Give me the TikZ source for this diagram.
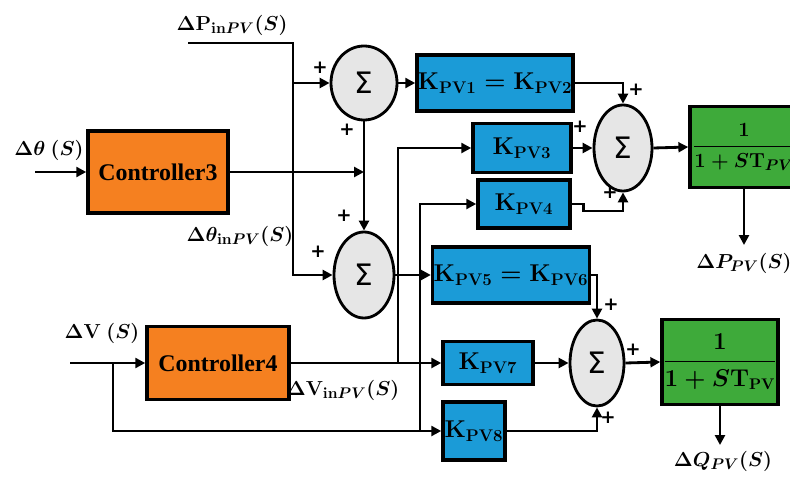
\documentclass[tikz,border=0pt]{standalone}
\usepackage{amsmath,amssymb}
\usepackage[no-math]{fontspec}
\setmainfont{Liberation Serif}
\newfontfamily\ctrlfont{Liberation Serif Bold}
\newfontfamily\symfont{DejaVu Sans}
\usepackage{tikz}
\usetikzlibrary{arrows.meta, shapes.geometric}
\definecolor{ctrlorange}{RGB}{245,128,32}
\definecolor{gainblue}{RGB}{27,155,215}
\definecolor{tfgreen}{RGB}{62,170,58}
\definecolor{sumgray}{RGB}{230,230,230}
\tikzset{
  signal style/.style={
    >={Triangle[length=7pt, width=7pt]}, % arrow tip style
    line width=2pt,                      % connector thickness
  },
  ctrl box/.style={draw, line width=2.5pt, fill=ctrlorange, font=\fontsize{17}{20}\ctrlfont},
  gain box/.style={draw, line width=2.5pt, fill=gainblue, inner sep=0pt, font=\fontsize{17}{20}\selectfont\boldmath},
  tf box/.style={draw, line width=2.5pt, fill=tfgreen, inner sep=0pt, font=\fontsize{16}{19}\selectfont\boldmath},
  sum node/.style={ellipse, draw, line width=2pt, fill=sumgray, inner sep=0pt,
    minimum width=1.5cm, minimum height=2.15cm, font=\fontsize{21}{24}\symfont},
  sig label/.style={inner sep=1pt, font=\fontsize{15}{18}\selectfont\boldmath},
  plus sign/.style={inner sep=0pt, font=\fontsize{13}{15}\symfont\bfseries},
}
\tikzset{every path/.style={signal style}}

\begin{document}
\begin{tikzpicture}[x=0.025cm, y=-0.025cm]
    \useasboundingbox (0,0) rectangle (790,480);

    % Controllers
    \node[ctrl box, minimum width=3.5cm, minimum height=2.05cm] (ctrl3) at (158,172) {Controller3};
    \node[ctrl box, minimum width=3.55cm, minimum height=1.83cm] (ctrl4) at (218,363) {Controller4};

    % Summing junctions
    \node[sum node, minimum width=1.65cm, minimum height=1.85cm] (sumP) at (364,83) {Σ};
    \node[sum node] (sumTh) at (364,275) {Σ};
    \node[sum node, minimum width=1.45cm] (sumPo) at (623,148) {Σ};
    \node[sum node, minimum width=1.35cm] (sumQo) at (597,363) {Σ};

    % Gains
    \node[gain box, minimum width=3.9cm, minimum height=1.4cm] (k12) at (495,83) {$\mathrm{K}_{\mathrm{PV1}}=\mathrm{K}_{\mathrm{PV2}}$};
    \node[gain box, minimum width=2.45cm, minimum height=1.22cm] (k3) at (522,148) {$\mathrm{K}_{\mathrm{PV3}}$};
    \node[gain box, minimum width=2.3cm, minimum height=1.2cm] (k4) at (524,204) {$\mathrm{K}_{\mathrm{PV4}}$};
    \node[gain box, minimum width=3.92cm, minimum height=1.4cm] (k56) at (511,275) {$\mathrm{K}_{\mathrm{PV5}}=\mathrm{K}_{\mathrm{PV6}}$};
    \node[gain box, minimum width=2.25cm, minimum height=1.08cm] (k7) at (488,363) {$\mathrm{K}_{\mathrm{PV7}}$};
    \node[gain box, minimum width=1.55cm, minimum height=1.45cm] (k8) at (474,431) {$\mathrm{K}_{\mathrm{PV8}}$};

    % Transfer functions
    \node[tf box, minimum width=2.7cm, minimum height=2.02cm, font=\fontsize{15}{18}\selectfont\boldmath] (tfP) at (744,147) {$\dfrac{1}{1+S\mathrm{T}_{PV}}$};
    \node[tf box, minimum width=2.9cm, minimum height=2.12cm] (tfQ) at (720,362) {$\dfrac{1}{1+S\mathrm{T}_{\mathrm{PV}}}$};

    % Signal labels
    \node[sig label] (lblPin) at (232,25) {$\Delta\mathrm{P}_{\mathrm{in}PV}(S)$};
    \node[sig label] (lblTh) at (49,150) {$\Delta\theta\ (S)$};
    \node[sig label] (lblThin) at (240,236) {$\Delta\theta_{\mathrm{in}PV}(S)$};
    \node[sig label] (lblV) at (102,333) {$\Delta\mathrm{V}\ (S)$};
    \node[sig label] (lblVin) at (343,390) {$\Delta\mathrm{V}_{\mathrm{in}PV}(S)$};
    \node[sig label] (lblPout) at (744,263) {$\Delta P_{PV}(S)$};
    \node[sig label] (lblQout) at (723,461) {$\Delta Q_{PV}(S)$};

    % Free ends and joints
    \coordinate (pIn) at (188,43);
    \coordinate (pJoint) at (293,43);
    \coordinate (thIn) at (35,172);
    \coordinate (vIn) at (70,363);
    \coordinate (vJoint) at (113,363);
    \coordinate (busA) at (398,148);
    \coordinate (busB) at (420,204);
    \coordinate (pOut) at (744,245);
    \coordinate (qOut) at (720,445);

    % Left part
    \draw[->] (pIn) -- (pJoint) |- (sumTh.west);
    \draw[->] (pJoint |- sumP.west) -- (sumP.west);
    \draw[->] (thIn) -- (ctrl3.west);
    \draw[->] (ctrl3.east) -- (ctrl3.east -| sumP.south);
    \draw[->] (sumP.south) -- (sumTh.north);
    \draw[->] (sumP.east) -- (k12.west);
    \draw[->] (sumTh.east) -- (k56.west);
    \draw[->] (vIn) -- (ctrl4.west);
    \draw[->] (ctrl4.east) -- (k7.west);
    \draw[->] (vJoint) |- (k8.west);
    \draw[->] (busA |- ctrl4.east) |- (k3.west);
    \draw[->] (busB |- k8.west) |- (k4.west);

    % Right part
    \draw[->] (k12.east) -| (sumPo.north);
    \draw[->] (k3.east) -- (sumPo.west);
    \draw[->] (k4.east) -- ++(12,0) -- ++(0,7) -| (sumPo.south);
    \draw[->] (sumPo.east) -- (tfP.west);
    \draw[->] (tfP.south) -- (pOut);
    \draw[->] (k56.east) -| (sumQo.north);
    \draw[->] (k7.east) -- (sumQo.west);
    \draw[->] (k8.east) -| (sumQo.south);
    \draw[->] (sumQo.east) -- (tfQ.west);
    \draw[->] (tfQ.south) -- (qOut);

    % Signs
    \foreach \px/\py [count=\i] in {320/68, 347/130, 344/216, 318/252, 636/90, 580/127, 610/193, 611/305, 633/350, 608/418}
        \node[plus sign] (plus\i) at (\px,\py) {+};
\end{tikzpicture}
\end{document}
